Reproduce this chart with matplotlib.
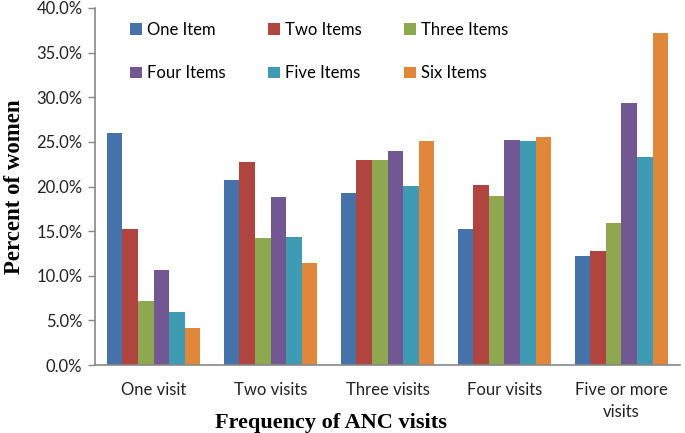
import matplotlib
matplotlib.use("Agg")
import matplotlib.pyplot as plt
import numpy as np
from matplotlib.ticker import FuncFormatter

categories = ["One visit", "Two visits", "Three visits", "Four visits", "Five or more\nvisits"]
series_names = ["One Item", "Two Items", "Three Items", "Four Items", "Five Items", "Six Items"]
one_item = [26.0, 20.7, 19.3, 15.2, 12.2]
two_items = [15.2, 22.8, 23.0, 20.2, 12.8]
three_items = [7.2, 14.2, 23.0, 18.9, 15.9]
four_items = [10.6, 18.8, 24.0, 25.2, 29.3]
five_items = [5.9, 14.3, 20.1, 25.1, 23.3]
six_items = [4.1, 11.4, 25.1, 25.5, 37.2]
yticks = [0, 5, 10, 15, 20, 25, 30, 35, 40]

colors = ["#4672AA", "#B0443F", "#8DA84E", "#715893", "#3F9BB4", "#E0873C"]

plt.rcParams['font.family'] = ['Lato', 'DejaVu Sans']

fig = plt.figure(figsize=(6.85, 4.33), dpi=100)
ax = fig.add_axes([95/685, 68/433, 585/685, 357/433])

all_series = [one_item, two_items, three_items, four_items, five_items, six_items]
x = np.arange(len(categories))
bw = 0.8 / 6
handles = []
for i, (name, vals) in enumerate(zip(series_names, all_series)):
    b = ax.bar(x - 0.4 + bw * (i + 0.5), vals, width=bw, color=colors[i], label=name, linewidth=0)
    handles.append(b)

ax.set_xlim(-0.5, len(categories) - 0.5)
ax.set_ylim(0, 40)
ax.set_yticks(yticks)
ax.yaxis.set_major_formatter(FuncFormatter(lambda v, p: f"{v:.1f}%"))
ax.set_xticks(x)
ax.set_xticklabels(categories, fontsize=12, color="#222222", linespacing=1.45)
ax.tick_params(axis='y', labelsize=12, colors="#222222", length=5, width=1, color="#888888", direction='out', pad=4)
ax.tick_params(axis='x', length=0, pad=12)
for s in ['top', 'right']:
    ax.spines[s].set_visible(False)
for s in ['left', 'bottom']:
    ax.spines[s].set_color("#888888")
    ax.spines[s].set_linewidth(1.2)

ax.set_ylabel("Percent of women", fontsize=16.5, fontweight='bold', family='Liberation Serif', labelpad=8)
ax.set_xlabel("Frequency of ANC visits", fontsize=16, fontweight='bold', family='Liberation Serif',
              va='center')
ax.xaxis.set_label_coords(0.404, -0.162)

order = [0, 3, 1, 4, 2, 5]
leg = ax.legend([handles[i] for i in order], [series_names[i] for i in order],
                ncol=3, loc='upper left', bbox_to_anchor=(0.035, 1.003), frameon=False,
                fontsize=12, handlelength=0.7, handleheight=0.7, handletextpad=0.3,
                columnspacing=2.55, labelspacing=1.64)

fig.savefig("out.png", dpi=100)
